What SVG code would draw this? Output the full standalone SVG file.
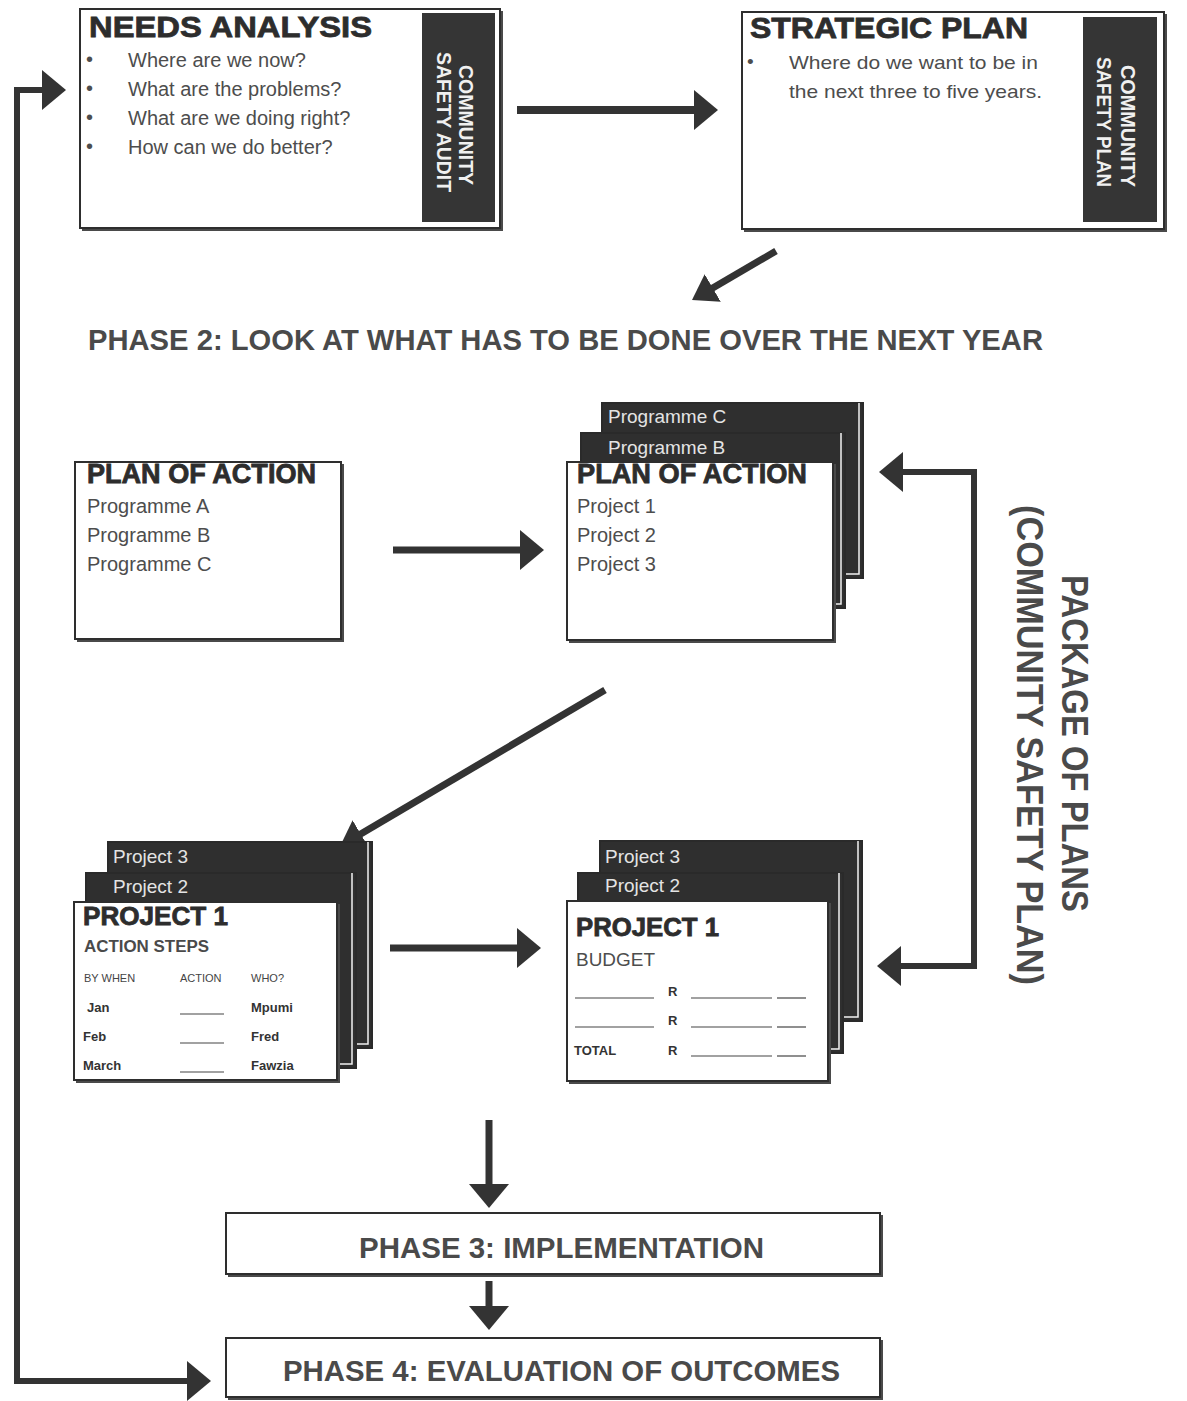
<svg xmlns="http://www.w3.org/2000/svg" width="1187" height="1401" viewBox="0 0 1187 1401">
<style>
  .bg{fill:#ffffff}
  .card{fill:#ffffff;stroke:#2e2e2e;stroke-width:2}
  .shadow{fill:#4a4a4a}
  .dark{fill:#2f2f2f;stroke:#2a2a2a;stroke-width:2}
  .gap{fill:none;stroke:#f2f2f2;stroke-width:1.5}
  .strip{fill:#353535}
  .h1{font-family:"Liberation Sans",Arial,sans-serif;font-weight:bold;fill:#2d2d2d;stroke:#2d2d2d;stroke-width:0.8}
  .body{font-family:"Liberation Sans",Arial,sans-serif;fill:#4d4d4d}
  .dtxt{font-family:"Liberation Sans",Arial,sans-serif;fill:#e4e4e4;font-size:19px}
  .stxt{font-family:"Liberation Sans",Arial,sans-serif;font-weight:bold;fill:#f0f0f0;font-size:20px}
  .phase{font-family:"Liberation Sans",Arial,sans-serif;font-weight:bold;fill:#4a4a4a}
  .small{font-family:"Liberation Sans",Arial,sans-serif;fill:#444;font-size:11px}
  .sb{font-family:"Liberation Sans",Arial,sans-serif;font-weight:bold;fill:#333;font-size:13px}
  .uline{stroke:#444;stroke-width:1.2}
  .conn{fill:none;stroke:#333;stroke-linejoin:miter}
</style>
<defs>
  <marker id="head" viewBox="0 0 24 40" markerWidth="24" markerHeight="40" refX="2" refY="20" orient="auto-start-reverse" markerUnits="userSpaceOnUse">
    <path d="M0,0 L24,20 L0,40 z" fill="#333"/>
  </marker>
  <marker id="headS" viewBox="0 0 24 32" markerWidth="24" markerHeight="32" refX="2" refY="16" orient="auto-start-reverse" markerUnits="userSpaceOnUse">
    <path d="M0,0 L24,16 L0,32 z" fill="#333"/>
  </marker>
</defs>
<rect class="bg" x="0" y="0" width="1187" height="1401"/>

<g id="connectors">
  <path class="conn" stroke-width="6" d="M44,90 L17,90 L17,1381 L189,1381" marker-start="url(#head)" marker-end="url(#head)"/>
  <path class="conn" stroke-width="8" d="M517,110 L696,110" marker-end="url(#head)"/>
  <path class="conn" stroke-width="7" d="M776,251 L711,289" marker-end="url(#headS)"/>
  <path class="conn" stroke-width="7" d="M393,550 L522,550" marker-end="url(#head)"/>
  <path class="conn" stroke-width="7" d="M605,690 L359,835" marker-end="url(#headS)"/>
  <path class="conn" stroke-width="7" d="M390,948 L519,948" marker-end="url(#head)"/>
  <path class="conn" stroke-width="6" d="M901,472 L974,472 L974,966 L899,966" marker-start="url(#head)" marker-end="url(#head)"/>
  <path class="conn" stroke-width="7" d="M489,1120 L489,1186" marker-end="url(#head)"/>
  <path class="conn" stroke-width="7" d="M489,1281 L489,1308" marker-end="url(#head)"/>
</g>

<g id="needs-analysis">
  <rect class="shadow" x="82" y="11" width="421" height="220"/>
  <rect class="card" x="80" y="9" width="420" height="219"/>
  <rect class="strip" x="422" y="13" width="73" height="209"/>
  <text class="h1" x="89" y="37" font-size="30" textLength="283" lengthAdjust="spacingAndGlyphs">NEEDS ANALYSIS</text>
  <g class="body" font-size="20">
    <text x="86" y="66">•</text><text x="128" y="67">Where are we now?</text>
    <text x="86" y="95">•</text><text x="128" y="96">What are the problems?</text>
    <text x="86" y="124">•</text><text x="128" y="125">What are we doing right?</text>
    <text x="86" y="153">•</text><text x="128" y="154">How can we do better?</text>
  </g>
  <text class="stxt" transform="translate(459,65) rotate(90)" textLength="120" lengthAdjust="spacingAndGlyphs">COMMUNITY</text>
  <text class="stxt" transform="translate(437,52) rotate(90)" textLength="140" lengthAdjust="spacingAndGlyphs">SAFETY AUDIT</text>
</g>

<g id="strategic-plan">
  <rect class="shadow" x="744" y="14" width="423" height="218"/>
  <rect class="card" x="742" y="12" width="422" height="217"/>
  <rect class="strip" x="1083" y="17" width="74" height="205"/>
  <text class="h1" x="750" y="38" font-size="30" textLength="278" lengthAdjust="spacingAndGlyphs">STRATEGIC PLAN</text>
  <g class="body" font-size="19">
    <text x="747" y="68">•</text>
    <text x="789" y="69" textLength="249" lengthAdjust="spacingAndGlyphs">Where do we want to be in</text>
    <text x="789" y="98" textLength="253" lengthAdjust="spacingAndGlyphs">the next three to five years.</text>
  </g>
  <text class="stxt" transform="translate(1121,65) rotate(90)" textLength="122" lengthAdjust="spacingAndGlyphs">COMMUNITY</text>
  <text class="stxt" transform="translate(1097,57) rotate(90)" textLength="130" lengthAdjust="spacingAndGlyphs">SAFETY PLAN</text>
</g>

<g id="phase2-label">
  <text class="phase" x="88" y="350" font-size="30" textLength="955" lengthAdjust="spacingAndGlyphs">PHASE 2: LOOK AT WHAT HAS TO BE DONE OVER THE NEXT YEAR</text>
</g>

<g id="plan-of-action-programmes">
  <rect class="shadow" x="77" y="464" width="267" height="178"/>
  <rect class="card" x="75" y="462" width="266" height="177"/>
  <text class="h1" x="87" y="483" font-size="27" textLength="229" lengthAdjust="spacingAndGlyphs">PLAN OF ACTION</text>
  <g class="body" font-size="20">
    <text x="87" y="513">Programme A</text>
    <text x="87" y="542">Programme B</text>
    <text x="87" y="571">Programme C</text>
  </g>
</g>

<g id="plan-of-action-projects">
  <rect class="dark" x="602" y="403" width="261" height="175"/>
  <polyline class="gap" points="859,403 859,574 602,574"/>
  <rect class="dark" x="581" y="433" width="264" height="175"/>
  <polyline class="gap" points="841,433 841,604 581,604"/>
  <text class="dtxt" x="608" y="423">Programme C</text>
  <text class="dtxt" x="608" y="454">Programme B</text>
  <rect class="shadow" x="569" y="464" width="267" height="179"/>
  <rect class="card" x="567" y="462" width="266" height="178"/>
  <text class="h1" x="577" y="483" font-size="27" textLength="230" lengthAdjust="spacingAndGlyphs">PLAN OF ACTION</text>
  <g class="body" font-size="20">
    <text x="577" y="513">Project 1</text>
    <text x="577" y="542">Project 2</text>
    <text x="577" y="571">Project 3</text>
  </g>
</g>

<g id="project1-action-steps">
  <rect class="dark" x="108" y="842" width="264" height="206"/>
  <polyline class="gap" points="368,842 368,1044 108,1044"/>
  <rect class="dark" x="86" y="873" width="270" height="195"/>
  <polyline class="gap" points="352,873 352,1064 86,1064"/>
  <text class="dtxt" x="113" y="863">Project 3</text>
  <text class="dtxt" x="113" y="893">Project 2</text>
  <rect class="shadow" x="76" y="904" width="264" height="179"/>
  <rect class="card" x="74" y="902" width="263" height="178"/>
  <text class="h1" x="83" y="925" font-size="25" textLength="145" lengthAdjust="spacingAndGlyphs">PROJECT 1</text>
  <text class="phase" x="84" y="952" font-size="16" fill="#444" textLength="125" lengthAdjust="spacingAndGlyphs">ACTION STEPS</text>
  <text class="small" x="84" y="982">BY WHEN</text>
  <text class="small" x="180" y="982">ACTION</text>
  <text class="small" x="251" y="982">WHO?</text>
  <text class="sb" x="87" y="1012">Jan</text>
  <text class="sb" x="83" y="1041">Feb</text>
  <text class="sb" x="83" y="1070">March</text>
  <text class="sb" x="251" y="1012">Mpumi</text>
  <text class="sb" x="251" y="1041">Fred</text>
  <text class="sb" x="251" y="1070">Fawzia</text>
  <line class="uline" x1="180" y1="1014" x2="224" y2="1014"/>
  <line class="uline" x1="180" y1="1043" x2="224" y2="1043"/>
  <line class="uline" x1="180" y1="1072" x2="224" y2="1072"/>
</g>

<g id="project1-budget">
  <rect class="dark" x="600" y="841" width="262" height="180"/>
  <polyline class="gap" points="858,841 858,1017 600,1017"/>
  <rect class="dark" x="578" y="873" width="265" height="180"/>
  <polyline class="gap" points="839,873 839,1049 578,1049"/>
  <text class="dtxt" x="605" y="863">Project 3</text>
  <text class="dtxt" x="605" y="892">Project 2</text>
  <rect class="shadow" x="569" y="903" width="262" height="181"/>
  <rect class="card" x="567" y="901" width="261" height="180"/>
  <text class="h1" x="576" y="936" font-size="25" textLength="143" lengthAdjust="spacingAndGlyphs">PROJECT 1</text>
  <text class="body" x="576" y="966" font-size="19" textLength="79" lengthAdjust="spacingAndGlyphs">BUDGET</text>
  <line class="uline" x1="575" y1="998" x2="654" y2="998"/>
  <text class="sb" x="668" y="996" font-size="12">R</text>
  <line class="uline" x1="691" y1="998" x2="772" y2="998"/>
  <line class="uline" x1="777" y1="998" x2="806" y2="998"/>
  <line class="uline" x1="575" y1="1027" x2="654" y2="1027"/>
  <text class="sb" x="668" y="1025" font-size="12">R</text>
  <line class="uline" x1="691" y1="1027" x2="772" y2="1027"/>
  <line class="uline" x1="777" y1="1027" x2="806" y2="1027"/>
  <text class="sb" x="574" y="1055" font-size="12">TOTAL</text>
  <text class="sb" x="668" y="1055" font-size="12">R</text>
  <line class="uline" x1="691" y1="1056" x2="772" y2="1056"/>
  <line class="uline" x1="777" y1="1056" x2="806" y2="1056"/>
</g>

<g id="package-label">
  <text class="phase" font-size="36" transform="translate(1062,575) rotate(90)" textLength="337" lengthAdjust="spacingAndGlyphs">PACKAGE OF PLANS</text>
  <text class="phase" font-size="36" transform="translate(1017,505) rotate(90)" textLength="480" lengthAdjust="spacingAndGlyphs">(COMMUNITY SAFETY PLAN)</text>
</g>

<g id="phase3">
  <rect class="shadow" x="228" y="1215" width="655" height="62"/>
  <rect class="card" x="226" y="1213" width="654" height="61"/>
  <text class="phase" x="359" y="1258" font-size="29" textLength="405" lengthAdjust="spacingAndGlyphs">PHASE 3: IMPLEMENTATION</text>
</g>

<g id="phase4">
  <rect class="shadow" x="228" y="1340" width="655" height="60"/>
  <rect class="card" x="226" y="1338" width="654" height="59"/>
  <text class="phase" x="283" y="1381" font-size="29" textLength="557" lengthAdjust="spacingAndGlyphs">PHASE 4: EVALUATION OF OUTCOMES</text>
</g>
</svg>
